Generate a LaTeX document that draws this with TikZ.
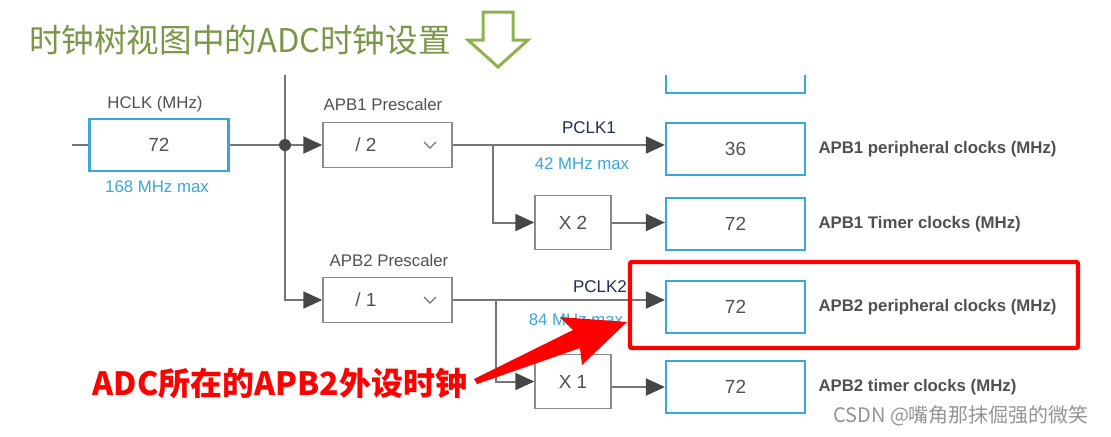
\documentclass[tikz,border=0pt]{standalone}
\usepackage{fontspec}
\setmainfont{Liberation Sans}
\newfontfamily\cjk{Noto Sans CJK SC}
\usetikzlibrary{arrows.meta}
\usetikzlibrary{positioning}
\definecolor{clkblue}{RGB}{58,166,218}
\definecolor{wiregray}{RGB}{118,118,118}
\definecolor{tipgray}{RGB}{70,70,70}
\definecolor{titlegreen}{RGB}{122,150,70}
\definecolor{arrowgreen}{RGB}{140,180,75}
\definecolor{pclknavy}{RGB}{35,45,80}
\definecolor{labgray}{RGB}{80,80,80}
\definecolor{hotred}{RGB}{255,0,0}
\newcommand{\chev}[2]{\draw[wiregray,line width=0.6pt] ( #1 - 6 , #2 - 3 ) -- ( #1 , #2 + 3 ) -- ( #1 + 6 , #2 - 3 );}
\tikzset{
  valbox/.style={draw=clkblue,line width=1.1pt,minimum width=69.5pt,minimum height=26pt,inner sep=0pt,font=\fontsize{9.5}{11}\selectfont,text=labgray},
  prebox/.style={draw=wiregray!85,line width=0.7pt,minimum width=64.5pt,minimum height=22.5pt,inner sep=0pt},
  mulbox/.style={prebox,minimum width=38pt,minimum height=27pt,font=\fontsize{9.5}{11}\selectfont,text=labgray},
  boxtext/.style={font=\fontsize{9.5}{11}\selectfont,text=labgray,inner sep=0pt},
  caption/.style={font=\fontsize{8.4}{10}\selectfont,text=labgray},
  maxnote/.style={font=\fontsize{8.4}{10}\selectfont,text=clkblue},
  pclk/.style={font=\fontsize{8.5}{10}\selectfont,text=pclknavy},
  outlab/.style={font=\bfseries\fontsize{8.4}{10}\selectfont,text=labgray,inner sep=1pt,anchor=west},
  wire/.style={draw=wiregray,line width=1pt},
  feed/.style={wire,-{Triangle[length=9.5pt,width=8.5pt,color=tipgray]}},
}
\begin{document}
\begin{tikzpicture}[x=0.5pt,y=-0.5pt]
  \useasboundingbox (0,0) rectangle (1111,436);
  % title
  \node[anchor=west,text=titlegreen,font=\cjk\fontsize{16.3}{19}\selectfont] (title) at (22,40) {时钟树视图中的ADC时钟设置};
  \draw[arrowgreen,line width=1.5pt] (483,12) -- (513,12) -- (513,40) -- (528,40) -- (498,67) -- (468,40) -- (483,40) -- cycle;
  % HCLK
  \node[valbox] (hclk) at (159,145) {72};
  \node[caption] (hclklab) at (155,104) {HCLK (MHz)};
  \node[maxnote] (hclkmax) at (157,187) {168 MHz max};
  \coordinate (hin) at (72,145);
  \coordinate (vtop) at (285,75);
  \coordinate (split) at (285,145);
  % prescalers
  \node[prebox] (pre1) at (387.5,145) {};
  \node[boxtext] (div1) at (366,145) {/ 2};
  \node[caption] (pre1lab) at (383,104) {APB1 Prescaler};
  \chev{430}{145}
  \node[prebox] (pre2) at (387.5,300) {};
  \node[boxtext] (div2) at (366,300) {/ 1};
  \node[caption] (pre2lab) at (389,260) {APB2 Prescaler};
  \chev{430}{300}
  % multipliers
  \node[mulbox] (mul1) at (573,222.5) {X 2};
  \node[mulbox] (mul2) at (573,381.5) {X 1};
  \coordinate (b1) at (493,145);
  \coordinate (b2) at (496,300);
  % output boxes
  \draw[clkblue,line width=1.1pt] (666,75) -- (666,93) -- (805,93) -- (805,75);
  \node[valbox] (p1) at (735.5,149) {36};
  \node[valbox] (t1) at (735.5,224) {72};
  \node[valbox] (p2) at (735.5,307) {72};
  \node[valbox] (t2) at (735.5,387) {72};
  \node[outlab,right=5pt of p1] (p1lab) {APB1 peripheral clocks (MHz)};
  \node[outlab,right=5pt of t1] (t1lab) {APB1 Timer clocks (MHz)};
  \node[outlab,right=5pt of p2] (p2lab) {APB2 peripheral clocks (MHz)};
  \node[outlab,right=5pt of t2] (t2lab) {APB2 timer clocks (MHz)};
  % clock labels
  \node[pclk] (pclka) at (589,128) {PCLK1};
  \node[maxnote] (maxa) at (582,164) {42 MHz max};
  \node[pclk] (pclkb) at (600,287) {PCLK2};
  \node[maxnote] (maxb) at (576,320) {84 MHz max};
  % wires
  \draw[wire] (hin) -- (hclk.west);
  \draw[wire] (hclk.east) -- (split);
  \draw[wire] (vtop) -- (split);
  \draw[feed] (split) -- (pre1.west);
  \draw[feed] (split) |- (pre2.west);
  \fill[tipgray] (split) circle (3pt);
  \draw[feed] (pre1.east) -- (pre1.east -| p1.west);
  \draw[feed] (b1) |- (mul1.west);
  \draw[feed] (mul1.east) -- (mul1.east -| t1.west);
  \draw[feed] (pre2.east) -- (pre2.east -| p2.west);
  \draw[feed] (b2) |- (mul2.west);
  \draw[feed] (mul2.east |- t2.west) -- (t2.west);
  % highlight
  \node[draw=hotred,line width=2.2pt,rounded corners=1pt,minimum width=224pt,minimum height=43pt] (focus) at (854,305) {};
  \node[font=\cjk\bfseries\fontsize{16}{18}\selectfont,text=hotred] (adclab) at (280,383) {ADC所在的APB2外设时钟};
  \fill[hotred] (474,379) -- (573,330) -- (560,317) -- (627,322) -- (582,365) -- (580,348) -- (477,384) -- cycle;
  \node[font=\cjk\fontsize{10}{12}\selectfont,text=black!42,anchor=east] (mark) at (1096,416) {CSDN @嘴角那抹倔强的微笑};
\end{tikzpicture}
\end{document}
